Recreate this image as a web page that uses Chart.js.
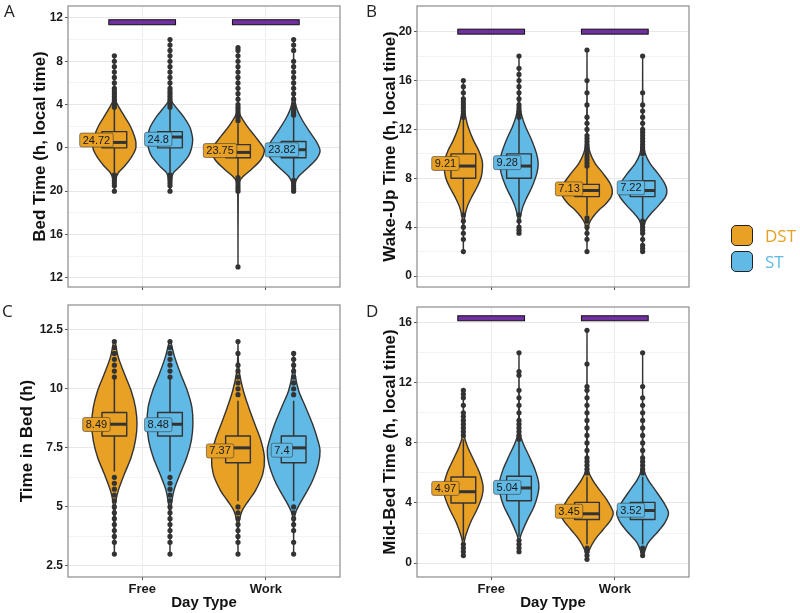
<!DOCTYPE html>
<html>
<head>
<meta charset="utf-8">
<script src="https://cdn.jsdelivr.net/npm/chart.js@4.4.1/dist/chart.umd.min.js"></script>
<style>
  html, body { margin: 0; padding: 0; background: #fff; }
  #fig { position: relative; width: 800px; height: 613px; overflow: hidden; }
  #fig canvas { position: absolute; left: 0; top: 0; }
  .tag { position: absolute; font: 17px 'Open Sans'; line-height: 17px; color: #222; }
  .key { position: absolute; left: 731px; width: 20px; height: 19px; border: 1.5px solid #222; border-radius: 5px; }
  .keytxt { position: absolute; left: 765px; font: 17px 'Open Sans'; line-height: 17px; }
</style>
</head>
<body>
<div id="fig">
  <canvas id="bed" width="800" height="613"></canvas>
  <canvas id="wake" width="800" height="613"></canvas>
  <canvas id="tib" width="800" height="613"></canvas>
  <canvas id="mid" width="800" height="613"></canvas>
  <div class="tag" style="left:4px;top:2px">A</div>
  <div class="tag" style="left:366px;top:2px">B</div>
  <div class="tag" style="left:2px;top:302px">C</div>
  <div class="tag" style="left:366px;top:302px">D</div>
  <div class="key" style="top:225px;background:#E8A124"></div>
  <div class="key" style="top:251px;background:#61BAE6"></div>
  <div class="keytxt" style="top:227px;color:#E8A124">DST</div>
  <div class="keytxt" style="top:253px;color:#61BAE6">ST</div>
</div>
<script>
const dayTypes = ['Free', 'Work'];
const seasons = ['DST', 'ST'];
// every per-group array below is ordered: Free DST, Free ST, Work DST, Work ST

// A: bed time in hours from midnight (negative = evening before)
const bedTicks = [-12, -8, -4, 0, 4, 8, 12];
const bedMeans = [0.72, 0.8, -0.25, -0.18];
const bedBoxes = [[0, 0.5, 1.5], [0, 1, 1.5], [-0.92, -0.42, 0.3], [-0.92, -0.17, 0.58]];
const bedWhiskers = [[-2.25, 3.75], [-2.25, 3.75], [-2.75, 2.25], [-2.75, 2.75]];
const bedViolins = [
  [[-4, 0], [-2.9, 0.05], [-2.3, 0.15], [-1.7, 0.38], [-0.9, 0.63], [-0.15, 0.79], [0.46, 0.81], [1.1, 0.75], [2, 0.6], [2.9, 0.38], [3.85, 0.15], [4.46, 0.04], [5.5, 0.01], [8.5, 0]],
  [[-4, 0], [-3.1, 0.04], [-2.3, 0.13], [-1.7, 0.38], [-0.77, 0.69], [0, 0.81], [0.77, 0.85], [1.38, 0.81], [2, 0.73], [2.9, 0.5], [3.85, 0.19], [4.46, 0.04], [5.5, 0.01], [10, 0]],
  [[-11, 0], [-4, 0.01], [-3.1, 0.06], [-2.6, 0.21], [-2, 0.5], [-1.1, 0.86], [-0.3, 0.99], [0.15, 0.92], [1.1, 0.63], [2, 0.34], [3.1, 0.07], [4, 0.01], [9.25, 0]],
  [[-4, 0], [-3.23, 0.06], [-2.62, 0.19], [-2, 0.46], [-1.08, 0.84], [-0.31, 0.99], [0.46, 0.88], [1.38, 0.63], [2.62, 0.31], [3.54, 0.13], [4.46, 0.04], [5.5, 0.01], [10, 0]]
];
const bedOutliers = [
  [-4, -3.5, -3.25, -3, -2.75, -2.5, 3.75, 4, 4.25, 4.5, 4.75, 5, 5.25, 5.5, 6, 6.5, 7, 7.5, 8, 8.5],
  [-4, -3.5, -3.25, -3, -2.75, -2.5, 3.75, 4, 4.25, 4.5, 4.75, 5, 5.25, 5.5, 6, 6.5, 7, 7.5, 8, 8.5, 9, 9.5, 10],
  [-11, -4, -3.75, -3.5, -3.25, -3, -2.75, 2.5, 2.75, 3, 3.25, 3.5, 3.75, 4, 4.5, 5, 5.5, 6, 6.5, 7, 7.5, 8, 8.5, 9, 9.25],
  [-4, -3.75, -3.5, -3.25, -3, 3, 3.25, 3.5, 3.75, 4, 4.5, 5, 5.5, 6, 6.5, 7, 7.5, 8, 9, 9.5, 10]
];
const bedSignif = 11.6;

// B: wake-up time
const wakeTicks = [0, 4, 8, 12, 16, 20];
const wakeMeans = [9.21, 9.28, 7.13, 7.22];
const wakeBoxes = [[8, 9, 10], [8, 9, 10], [6.5, 7, 7.5], [6.5, 7, 7.8]];
const wakeWhiskers = [[5, 13], [5, 13], [5, 9], [4.5, 9.75]];
const wakeViolins = [
  [[2, 0], [4, 0.01], [4.85, 0.05], [5.7, 0.15], [6.5, 0.32], [7.3, 0.52], [8.1, 0.67], [8.95, 0.72], [9.5, 0.7], [10.3, 0.57], [11.1, 0.38], [12.2, 0.18], [13, 0.09], [13.6, 0.04], [14.5, 0.01], [16, 0]],
  [[3.5, 0], [4.3, 0.01], [4.85, 0.05], [5.7, 0.15], [6.5, 0.31], [7.3, 0.49], [8.4, 0.67], [9.2, 0.72], [10, 0.66], [11.1, 0.48], [12.2, 0.25], [13, 0.12], [13.85, 0.04], [15, 0.01], [18, 0]],
  [[2, 0], [3.5, 0.01], [4.3, 0.08], [4.85, 0.23], [5.4, 0.45], [5.9, 0.7], [6.5, 0.91], [7, 0.95], [7.6, 0.86], [8.4, 0.6], [9.2, 0.31], [10, 0.13], [10.85, 0.04], [12, 0.01], [18.5, 0]],
  [[2, 0], [3.2, 0.01], [4, 0.04], [4.6, 0.13], [5.1, 0.31], [5.7, 0.57], [6.5, 0.86], [7, 0.91], [7.6, 0.82], [8.4, 0.57], [9.2, 0.28], [10, 0.1], [10.85, 0.04], [12, 0.01], [18, 0]]
];
const wakeOutliers = [
  [2, 3, 3.5, 4, 4.5, 5, 13, 13.25, 13.5, 13.75, 14, 14.25, 14.5, 15, 15.5, 16],
  [3.5, 3.75, 4, 4.5, 5, 13, 13.25, 13.5, 13.75, 14, 14.5, 15, 15.5, 16, 16.5, 17, 18],
  [2, 3, 3.5, 4, 4.5, 4.75, 9, 9.25, 9.5, 9.75, 10, 10.25, 10.5, 10.75, 11, 11.25, 11.5, 12, 12.5, 13, 14, 15, 16, 18.5],
  [2, 2.25, 2.5, 3, 3.5, 3.75, 4, 4.25, 4.5, 10, 10.25, 10.5, 10.75, 11, 11.25, 11.5, 11.75, 12, 12.5, 13, 13.5, 14, 15, 18]
];
const wakeSignif = 20;

// C: time in bed
const tibTicks = [2.5, 5, 7.5, 10, 12.5];
const tibMeans = [8.49, 8.48, 7.37, 7.4];
const tibBoxes = [[8, 8.5, 9], [8, 8.5, 9], [6.87, 7.5, 8], [6.87, 7.5, 8]];
const tibWhiskers = [[6.5, 10.5], [6.5, 10.5], [5.25, 9.5], [5.25, 9.5]];
const tibViolins = [
  [[3, 0], [4.85, 0.03], [5.27, 0.06], [5.7, 0.15], [6.4, 0.38], [7.1, 0.63], [7.81, 0.79], [8.51, 0.85], [9.22, 0.79], [9.92, 0.63], [10.63, 0.38], [11.33, 0.15], [12, 0.03]],
  [[3, 0], [4.5, 0.01], [5, 0.04], [5.7, 0.15], [6.4, 0.38], [7.1, 0.63], [7.81, 0.8], [8.51, 0.86], [9.22, 0.82], [9.92, 0.65], [10.63, 0.4], [11.33, 0.18], [12, 0.03]],
  [[3, 0], [4, 0.01], [4.43, 0.05], [4.85, 0.16], [5.27, 0.4], [5.7, 0.66], [6.4, 0.93], [7.1, 0.99], [7.81, 0.86], [8.51, 0.63], [9.22, 0.4], [9.92, 0.2], [10.63, 0.06], [11.3, 0.01], [12, 0]],
  [[3, 0], [4.2, 0.01], [4.71, 0.06], [5.13, 0.23], [5.56, 0.45], [6.12, 0.71], [6.82, 0.93], [7.39, 0.99], [7.81, 0.91], [8.51, 0.71], [9.22, 0.45], [9.92, 0.19], [10.63, 0.05], [11.5, 0]]
];
const tibOutliers = [
  [3, 3.5, 3.75, 4, 4.25, 4.5, 4.75, 5, 5.25, 5.5, 5.75, 6, 6.25, 10.5, 10.75, 11, 11.25, 11.5, 11.75, 12],
  [3, 3.5, 3.75, 4, 4.25, 4.5, 4.75, 5, 5.25, 5.5, 5.75, 6, 6.25, 10.5, 10.75, 11, 11.25, 11.5, 11.75, 12],
  [3, 3.5, 3.75, 4, 4.25, 4.5, 4.75, 5, 9.75, 10, 10.25, 10.5, 10.75, 11, 11.5, 12],
  [3, 3.5, 4, 4.25, 4.5, 4.75, 5, 9.75, 10, 10.25, 10.5, 10.75, 11, 11.25, 11.5]
];
const tibSignif = null;

// D: mid-bed time
const midTicks = [0, 4, 8, 12, 16];
const midMeans = [4.97, 5.04, 3.45, 3.52];
const midBoxes = [[4, 4.75, 5.73], [4.15, 5, 5.78], [2.9, 3.28, 4.04], [2.9, 3.5, 4.04]];
const midWhiskers = [[1.5, 8.25], [1.75, 8.25], [1.25, 5.75], [1.25, 5.75]];
const midViolins = [
  [[0.5, 0], [1.33, 0.03], [1.78, 0.08], [2.67, 0.26], [3.56, 0.51], [4.44, 0.7], [5.11, 0.74], [6, 0.61], [6.89, 0.38], [7.78, 0.15], [8.44, 0.04], [9.5, 0.01], [11.5, 0]],
  [[0.75, 0], [1.56, 0.03], [2, 0.1], [2.89, 0.32], [3.78, 0.57], [4.67, 0.72], [5.33, 0.74], [6.22, 0.6], [7.11, 0.38], [8, 0.15], [8.67, 0.04], [10, 0.01], [14, 0]],
  [[0.25, 0], [0.44, 0.03], [0.89, 0.09], [1.56, 0.3], [2.22, 0.6], [2.89, 0.9], [3.4, 0.98], [4.22, 0.74], [4.89, 0.46], [5.56, 0.2], [6.22, 0.04], [7.5, 0.01], [15.5, 0]],
  [[0.5, 0], [0.67, 0.05], [1.33, 0.2], [2, 0.53], [2.67, 0.83], [3.33, 0.97], [4, 0.8], [4.89, 0.46], [5.56, 0.2], [6.22, 0.05], [7.5, 0.01], [14, 0]]
];
const midOutliers = [
  [0.5, 0.75, 1, 1.25, 8.5, 8.75, 9, 9.25, 9.5, 9.75, 10, 10.5, 11, 11.25, 11.5],
  [0.75, 1, 1.25, 1.5, 8.25, 8.5, 8.75, 9, 9.25, 9.5, 10, 10.5, 11, 11.5, 12.5, 12.75, 14],
  [0.25, 0.5, 0.75, 1, 6, 6.25, 6.5, 6.75, 7, 7.5, 8, 8.5, 9, 9.5, 10, 10.5, 11, 11.5, 11.75, 13.25, 15.5],
  [0.5, 0.75, 1, 6, 6.25, 6.5, 6.75, 7, 7.5, 8, 8.5, 9, 9.5, 10, 10.5, 11, 11.75, 14]
];
const midSignif = 16.3;

// look
const seasonColors = ['#E8A124', '#61BAE6'];
const dodge = [-0.225, 0.225];
const labelShift = [-0.37, 0.13];
const VIOLIN_HALF = 0.2156;
const BOX_HALF = 0.1;
const SIG_HALF = 0.27;
const INK = '#333333';
const axisFont = "'Liberation Sans', Arial, sans-serif";

function groupX(i) {
  return (Math.floor(i / 2) + 1) + dodge[i % 2];
}

function traceSide(ctx, pts, cx, dir, joinOnly) {
  for (let k = 0; k < pts.length; k++) {
    const p = pts[k];
    if (k === 0) {
      if (joinOnly) ctx.lineTo(p.x, p.y); else ctx.moveTo(p.x, p.y);
      continue;
    }
    const p0 = pts[Math.max(k - 2, 0)], p1 = pts[k - 1], p3 = pts[Math.min(k + 1, pts.length - 1)];
    let c1x = p1.x + (p.x - p0.x) / 6, c1y = p1.y + (p.y - p0.y) / 6;
    let c2x = p.x - (p3.x - p1.x) / 6, c2y = p.y - (p3.y - p1.y) / 6;
    if ((c1x - cx) * dir < 0) c1x = cx;
    if ((c2x - cx) * dir < 0) c2x = cx;
    ctx.bezierCurveTo(c1x, c1y, c2x, c2y, p.x, p.y);
  }
}

function panelLayer(panel) {
  return {
    id: 'panelLayer',
    beforeDatasetsDraw(chart) {
      const { ctx, scales: { x, y } } = chart;
      ctx.save();
      panel.violins.forEach((shape, i) => {
        const gx = groupX(i);
        const cx = x.getPixelForValue(gx);
        const unit = x.getPixelForValue(gx + VIOLIN_HALF) - cx;
        const right = shape.map(([v, d]) => ({ x: cx + d * unit, y: y.getPixelForValue(v) }));
        const left = shape.map(([v, d]) => ({ x: cx - d * unit, y: y.getPixelForValue(v) })).reverse();
        ctx.beginPath();
        traceSide(ctx, right, cx, 1, false);
        traceSide(ctx, left, cx, -1, true);
        ctx.closePath();
        ctx.fillStyle = seasonColors[i % 2];
        ctx.fill();
        ctx.lineWidth = 1.4;
        ctx.strokeStyle = INK;
        ctx.lineJoin = 'round';
        ctx.stroke();
      });
      panel.boxes.forEach(([q1, med, q3], i) => {
        const gx = groupX(i);
        const cx = x.getPixelForValue(gx);
        const x0 = x.getPixelForValue(gx - BOX_HALF), x1 = x.getPixelForValue(gx + BOX_HALF);
        const [lo, hi] = panel.whiskers[i];
        ctx.strokeStyle = INK;
        ctx.lineWidth = 1.5;
        ctx.beginPath();
        ctx.moveTo(cx, y.getPixelForValue(q3)); ctx.lineTo(cx, y.getPixelForValue(hi));
        ctx.moveTo(cx, y.getPixelForValue(q1)); ctx.lineTo(cx, y.getPixelForValue(lo));
        ctx.stroke();
        const yt = y.getPixelForValue(q3), yb = y.getPixelForValue(q1);
        ctx.fillStyle = seasonColors[i % 2];
        ctx.fillRect(x0, yt, x1 - x0, yb - yt);
        ctx.lineWidth = 1.4;
        ctx.strokeRect(x0, yt, x1 - x0, yb - yt);
        ctx.lineWidth = 3;
        ctx.beginPath();
        ctx.moveTo(x0, y.getPixelForValue(med)); ctx.lineTo(x1, y.getPixelForValue(med));
        ctx.stroke();
      });
      ctx.restore();
    },
    afterDatasetsDraw(chart) {
      const { ctx, scales: { x, y } } = chart;
      ctx.save();
      ctx.font = "11px " + axisFont;
      ctx.textAlign = 'center';
      ctx.textBaseline = 'middle';
      panel.means.forEach((m, i) => {
        const lx = x.getPixelForValue(Math.floor(i / 2) + 1 + labelShift[i % 2]);
        const ly = y.getPixelForValue(m);
        const txt = panel.format(m);
        const w = ctx.measureText(txt).width + 6;
        ctx.beginPath();
        ctx.roundRect(lx - w / 2, ly - 7, w, 14, 2);
        ctx.fillStyle = seasonColors[i % 2];
        ctx.fill();
        ctx.lineWidth = 0.9;
        ctx.strokeStyle = 'rgba(50,50,50,0.6)';
        ctx.stroke();
        ctx.fillStyle = '#1a1a1a';
        ctx.fillText(txt, lx, ly + 0.5);
      });
      if (panel.signif !== null) {
        dayTypes.forEach((d, k) => {
          const x0 = x.getPixelForValue(k + 1 - SIG_HALF), x1 = x.getPixelForValue(k + 1 + SIG_HALF);
          const yc = y.getPixelForValue(panel.signif);
          ctx.fillStyle = '#7030A0';
          ctx.fillRect(x0, yc - 2.5, x1 - x0, 5);
          ctx.lineWidth = 1;
          ctx.strokeStyle = '#111';
          ctx.strokeRect(x0, yc - 2.5, x1 - x0, 5);
        });
      }
      ctx.restore();
    },
    afterDraw(chart) {
      const { ctx, chartArea: a } = chart;
      ctx.save();
      ctx.strokeStyle = '#8c8c8c';
      ctx.lineWidth = 1.2;
      ctx.strokeRect(a.left, a.top, a.right - a.left, a.bottom - a.top);
      ctx.restore();
    }
  };
}

function makePanel(id, panel) {
  const majors = panel.ticks;
  const minors = majors.slice(1).map((t, k) => (t + majors[k]) / 2);
  const datasets = panel.outliers.map((vals, i) => ({
    label: dayTypes[Math.floor(i / 2)] + ' ' + seasons[i % 2],
    data: vals.map(v => ({ x: groupX(i), y: v })),
    pointRadius: 2.6,
    pointBackgroundColor: INK,
    pointBorderWidth: 0
  }));
  return new Chart(document.getElementById(id), {
    type: 'scatter',
    data: { datasets },
    options: {
      responsive: false,
      animation: false,
      events: [],
      layout: { padding: panel.pad },
      plugins: { legend: { display: false }, tooltip: { enabled: false } },
      scales: {
        x: {
          type: 'linear', min: 0.4, max: 2.6,
          afterBuildTicks: s => { s.ticks = [{ value: 1 }, { value: 2 }]; },
          afterFit: s => { s.height = panel.xHeight; s.paddingLeft = 0; s.paddingRight = 0; },
          border: { display: false },
          grid: { color: '#ebebeb', lineWidth: 1, tickLength: 3, tickColor: '#555' },
          ticks: {
            autoSkip: false, maxRotation: 0, padding: 2, color: '#1a1a1a',
            font: { family: axisFont, size: 13, weight: 'bold' },
            callback: (v, i) => panel.showX ? dayTypes[i] : ''
          },
          title: {
            display: panel.showX, text: 'Day Type', color: '#111',
            font: { family: axisFont, size: 15, weight: 'bold' }, padding: { top: 0, bottom: 1 }
          }
        },
        y: {
          type: 'linear', min: panel.range[0], max: panel.range[1],
          afterBuildTicks: s => {
            s.ticks = majors.map(v => ({ value: v }))
              .concat(minors.map(v => ({ value: v, minor: true })))
              .sort((a, b) => a.value - b.value);
          },
          afterFit: s => { s.width = panel.yWidth; s.paddingTop = 0; s.paddingBottom = 0; },
          border: { display: false },
          grid: {
            color: c => c.tick && c.tick.minor ? '#f3f3f3' : '#e8e8e8',
            tickColor: c => c.tick && c.tick.minor ? 'rgba(0,0,0,0)' : '#555',
            lineWidth: 1, tickLength: 3
          },
          ticks: {
            autoSkip: false, padding: 2, color: '#1a1a1a',
            font: { family: axisFont, size: 12, weight: 'bold' },
            callback: (v, i, t) => t[i].minor ? '' : panel.tickLabel(v)
          },
          title: {
            display: true, text: panel.title, color: '#111',
            font: { family: axisFont, size: 17, weight: 'bold' },
            padding: { top: panel.titleOffset, bottom: 0 }
          }
        }
      }
    },
    plugins: [panelLayer(panel)]
  });
}

const plain = v => String(v);

makePanel('bed', {
  ticks: bedTicks, means: bedMeans, boxes: bedBoxes, whiskers: bedWhiskers,
  violins: bedViolins, outliers: bedOutliers, signif: bedSignif,
  range: [-12.85, 13.1], title: 'Bed Time (h, local time)',
  tickLabel: v => String((v + 24) % 24), format: m => String(+(24 + m).toFixed(2)),
  pad: { left: 0, top: 6, right: 460, bottom: 313 }, xHeight: 13, yWidth: 68, titleOffset: 30, showX: false
});
makePanel('wake', {
  ticks: wakeTicks, means: wakeMeans, boxes: wakeBoxes, whiskers: wakeWhiskers,
  violins: wakeViolins, outliers: wakeOutliers, signif: wakeSignif,
  range: [-0.9, 22.1], title: 'Wake-Up Time (h, local time)',
  tickLabel: plain, format: plain,
  pad: { left: 360, top: 6, right: 111, bottom: 313 }, xHeight: 13, yWidth: 57, titleOffset: 20, showX: false
});
makePanel('tib', {
  ticks: tibTicks, means: tibMeans, boxes: tibBoxes, whiskers: tibWhiskers,
  violins: tibViolins, outliers: tibOutliers, signif: tibSignif,
  range: [2.03, 13.55], title: 'Time in Bed (h)',
  tickLabel: plain, format: plain,
  pad: { left: 0, top: 305, right: 460, bottom: 0 }, xHeight: 36, yWidth: 68, titleOffset: 17, showX: true
});
makePanel('mid', {
  ticks: midTicks, means: midMeans, boxes: midBoxes, whiskers: midWhiskers,
  violins: midViolins, outliers: midOutliers, signif: midSignif,
  range: [-0.93, 17.05], title: 'Mid-Bed Time (h, local time)',
  tickLabel: plain, format: plain,
  pad: { left: 360, top: 307, right: 111, bottom: 0 }, xHeight: 36, yWidth: 57, titleOffset: 20, showX: true
});
</script>
</body>
</html>
